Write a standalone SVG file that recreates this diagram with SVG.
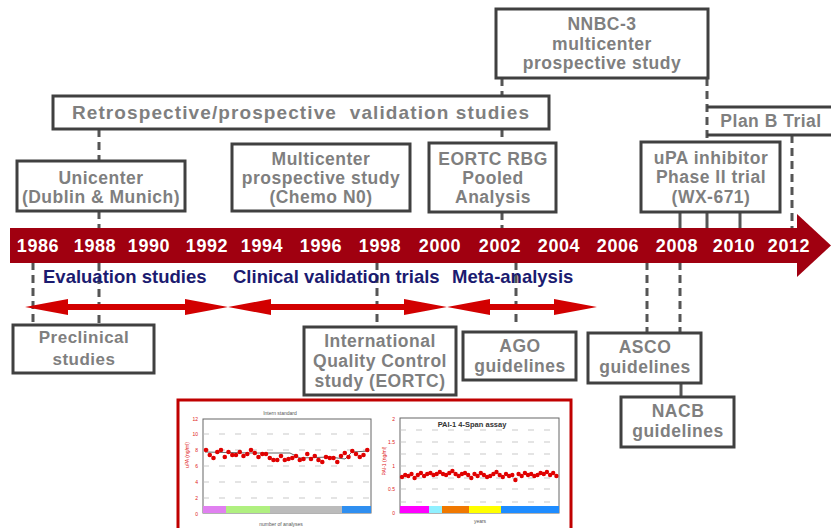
<svg xmlns="http://www.w3.org/2000/svg" width="831" height="528" viewBox="0 0 831 528">
<defs>
<style>
.box{fill:#fff;stroke:#404040;stroke-width:3}
.bt{font-family:"Liberation Sans",Arial,sans-serif;font-weight:bold;font-size:17.5px;fill:#7f7f7f;text-anchor:middle;letter-spacing:0.5px}
.dash{stroke:#555;stroke-width:3;stroke-dasharray:8 5;fill:none}
.solid{stroke:#555;stroke-width:3;fill:none}
.yr{font-family:"Liberation Sans",Arial,sans-serif;font-weight:bold;font-size:18px;fill:#fff;text-anchor:middle;letter-spacing:0.6px}
.lbl{font-family:"Liberation Sans",Arial,sans-serif;font-weight:bold;font-size:18.5px;fill:#1b1b70}
.dbl{fill:#d20000}
.tiny{font-family:"Liberation Sans",Arial,sans-serif;font-size:5px;fill:#555;text-anchor:middle}
.tick{font-family:"Liberation Sans",Arial,sans-serif;font-size:5px;fill:#e02020;text-anchor:end}
.grid{stroke:#bbb;stroke-width:0.8;stroke-dasharray:6 10}
.frame{fill:#fff;stroke:#666;stroke-width:1}
</style>
</defs>
<rect width="831" height="528" fill="#fff"/>

<g id="connectors">
<line class="dash" x1="99" y1="129" x2="99" y2="161"/>
<line class="dash" x1="99" y1="211" x2="99" y2="325"/>
<line class="dash" x1="33" y1="262" x2="33" y2="325"/>
<line class="dash" x1="502" y1="78" x2="502" y2="96"/>
<line class="dash" x1="502" y1="129" x2="502" y2="143"/>
<line class="dash" x1="502" y1="212" x2="502" y2="230"/>
<line class="dash" x1="707" y1="78" x2="707" y2="142"/>
<line class="solid" x1="707" y1="212" x2="707" y2="230"/>
<line class="solid" x1="680" y1="212" x2="680" y2="230"/>
<line class="solid" x1="740" y1="212" x2="740" y2="230"/>
<line class="dash" x1="792" y1="135" x2="792" y2="230"/>
<line class="dash" x1="377" y1="262" x2="377" y2="327"/>
<line class="dash" x1="516" y1="262" x2="516" y2="322"/>
<line class="dash" x1="647" y1="262" x2="647" y2="333"/>
<line class="dash" x1="680" y1="262" x2="680" y2="333"/>
<line class="solid" x1="681" y1="383" x2="681" y2="397"/>
</g>

<g id="timeline">
<rect x="10" y="228" width="788" height="35" fill="#a00010"/>
<polygon points="797,214 831,245.5 797,277" fill="#a00010"/>
<text class="yr" x="38" y="252">1986</text>
<text class="yr" x="95" y="252">1988</text>
<text class="yr" x="149" y="252">1990</text>
<text class="yr" x="207" y="252">1992</text>
<text class="yr" x="262" y="252">1994</text>
<text class="yr" x="321" y="252">1996</text>
<text class="yr" x="380" y="252">1998</text>
<text class="yr" x="440" y="252">2000</text>
<text class="yr" x="500" y="252">2002</text>
<text class="yr" x="559" y="252">2004</text>
<text class="yr" x="618" y="252">2006</text>
<text class="yr" x="677" y="252">2008</text>
<text class="yr" x="734" y="252">2010</text>
<text class="yr" x="789" y="252">2012</text>
</g>

<g id="phases">
<text class="lbl" x="43" y="283">Evaluation studies</text>
<text class="lbl" x="233" y="283">Clinical validation trials</text>
<text class="lbl" x="452" y="283">Meta-analysis</text>
<polygon class="dbl" points="25,307 68,299 68,304 185,304 185,299 228,307 185,315 185,310 68,310 68,315"/>
<polygon class="dbl" points="228,307 271,299 271,304 404,304 404,299 447,307 404,315 404,310 271,310 271,315"/>
<polygon class="dbl" points="447,307 490,299 490,304 554,304 554,299 597,307 554,315 554,310 490,310 490,315"/>
</g>

<g id="retro">
<rect class="box" x="53" y="96" width="496" height="33"/>
<text class="bt" x="301" y="119" style="font-size:19px;letter-spacing:1.1px">Retrospective/prospective&#160; validation studies</text>
</g>
<g id="nnbc">
<rect class="box" x="496" y="9" width="212" height="69"/>
<text class="bt" x="602" y="30">NNBC-3</text>
<text class="bt" x="602" y="50">multicenter</text>
<text class="bt" x="602" y="69">prospective study</text>
</g>
<g id="unicenter">
<rect class="box" x="17" y="161" width="168" height="50"/>
<text class="bt" x="101" y="184">Unicenter</text>
<text class="bt" x="101" y="203">(Dublin &amp; Munich)</text>
</g>
<g id="multicenter">
<rect class="box" x="232" y="144" width="178" height="67"/>
<text class="bt" x="321" y="165">Multicenter</text>
<text class="bt" x="321" y="184">prospective study</text>
<text class="bt" x="321" y="203">(Chemo N0)</text>
</g>
<g id="eortc">
<rect class="box" x="429" y="143" width="127" height="69"/>
<text class="bt" x="493" y="165">EORTC RBG</text>
<text class="bt" x="493" y="184">Pooled</text>
<text class="bt" x="493" y="203">Analysis</text>
</g>
<g id="planb">
<path d="M707,107 H833 M707,135 H833" stroke="#404040" stroke-width="3" fill="none"/>
<text class="bt" x="771" y="127">Plan B Trial</text>
</g>
<g id="upa">
<rect class="box" x="641" y="142" width="139" height="70"/>
<text class="bt" x="711" y="164">uPA inhibitor</text>
<text class="bt" x="711" y="183">Phase II trial</text>
<text class="bt" x="711" y="203">(WX-671)</text>
</g>
<g id="preclinical">
<rect class="box" x="13" y="325" width="141" height="48"/>
<text class="bt" x="84" y="343" style="font-size:17px">Preclinical</text>
<text class="bt" x="84" y="365" style="font-size:17px">studies</text>
</g>
<g id="iqc">
<rect class="box" x="304" y="327" width="152" height="68"/>
<text class="bt" x="380" y="347">International</text>
<text class="bt" x="380" y="367">Quality Control</text>
<text class="bt" x="380" y="387">study (EORTC)</text>
</g>
<g id="ago">
<rect class="box" x="463" y="332" width="113" height="48"/>
<text class="bt" x="520" y="352">AGO</text>
<text class="bt" x="520" y="372">guidelines</text>
</g>
<g id="asco">
<rect class="box" x="588" y="333" width="113" height="50"/>
<text class="bt" x="645" y="353">ASCO</text>
<text class="bt" x="645" y="373">guidelines</text>
</g>
<g id="nacb">
<rect class="box" x="621" y="397" width="113" height="50"/>
<text class="bt" x="678" y="417">NACB</text>
<text class="bt" x="678" y="437">guidelines</text>
</g>

<g id="charts">
<rect x="178" y="400" width="393" height="140" fill="#fff" stroke="#c00000" stroke-width="3"/>
<rect class="frame" x="203" y="419" width="168" height="94"/>
<line class="grid" x1="203" y1="434" x2="371" y2="434"/>
<line class="grid" x1="203" y1="450" x2="371" y2="450"/>
<line class="grid" x1="203" y1="466" x2="371" y2="466"/>
<line class="grid" x1="203" y1="482" x2="371" y2="482"/>
<line class="grid" x1="203" y1="498" x2="371" y2="498"/>
<rect x="203" y="506" width="23" height="7" fill="#e080f0"/>
<rect x="226" y="506" width="44" height="7" fill="#b0f080"/>
<rect x="270" y="506" width="72" height="7" fill="#bbbbbb"/>
<rect x="342" y="506" width="29" height="7" fill="#2f8ff0"/>
<text class="tick" x="198" y="421">12</text>
<text class="tick" x="198" y="436">10</text>
<text class="tick" x="198" y="452">8</text>
<text class="tick" x="198" y="468">6</text>
<text class="tick" x="198" y="484">4</text>
<text class="tick" x="198" y="500">2</text>
<text class="tick" x="198" y="516">0</text>
<text class="tiny" x="280" y="415">Intern standard</text>
<text class="tiny" x="281" y="526">number of analyses</text>
<text class="tick" x="0" y="0" transform="translate(189,455) rotate(-90)" style="text-anchor:middle">uPA (ng/ml)</text>
<polyline points="205,452 250,453 290,453 300,458 330,457 345,459 352,452 369,451" fill="none" stroke="#555" stroke-width="0.9"/>
<g fill="#e00000">
<circle cx="206" cy="450" r="2.3"/><circle cx="209.8" cy="455" r="2.3"/><circle cx="213.5" cy="458" r="2.3"/><circle cx="217.3" cy="452" r="2.3"/><circle cx="221" cy="450" r="2.3"/><circle cx="224.8" cy="457" r="2.3"/><circle cx="228.5" cy="452" r="2.3"/><circle cx="232.3" cy="455" r="2.3"/><circle cx="236" cy="455" r="2.3"/><circle cx="239.8" cy="452" r="2.3"/><circle cx="243.5" cy="456" r="2.3"/><circle cx="247.3" cy="454" r="2.3"/><circle cx="251" cy="450" r="2.3"/><circle cx="254.8" cy="453" r="2.3"/><circle cx="258.5" cy="457" r="2.3"/><circle cx="262.3" cy="454" r="2.3"/><circle cx="266" cy="454" r="2.3"/><circle cx="269.8" cy="458" r="2.3"/><circle cx="273.5" cy="460" r="2.3"/><circle cx="277.3" cy="460" r="2.3"/><circle cx="281" cy="456" r="2.3"/><circle cx="284.8" cy="460" r="2.3"/><circle cx="288.5" cy="459" r="2.3"/><circle cx="292.3" cy="458" r="2.3"/><circle cx="296" cy="456" r="2.3"/><circle cx="299.8" cy="460" r="2.3"/><circle cx="303.5" cy="459" r="2.3"/><circle cx="307.3" cy="454" r="2.3"/><circle cx="311" cy="459" r="2.3"/><circle cx="314.8" cy="456" r="2.3"/><circle cx="318.5" cy="460" r="2.3"/><circle cx="322.3" cy="462" r="2.3"/><circle cx="326" cy="457" r="2.3"/><circle cx="329.8" cy="458" r="2.3"/><circle cx="333.5" cy="458" r="2.3"/><circle cx="337.3" cy="462" r="2.3"/><circle cx="341" cy="456" r="2.3"/><circle cx="344.8" cy="453" r="2.3"/><circle cx="348.5" cy="457" r="2.3"/><circle cx="352.3" cy="451" r="2.3"/><circle cx="356" cy="454" r="2.3"/><circle cx="359.8" cy="457" r="2.3"/><circle cx="363.5" cy="455" r="2.3"/><circle cx="367.3" cy="450" r="2.3"/>
</g>
<rect class="frame" x="400" y="418" width="159" height="95"/>
<line class="grid" x1="400" y1="430" x2="559" y2="430"/>
<line class="grid" x1="400" y1="442" x2="559" y2="442"/>
<line class="grid" x1="400" y1="454" x2="559" y2="454"/>
<line class="grid" x1="400" y1="466" x2="559" y2="466"/>
<line class="grid" x1="400" y1="478" x2="559" y2="478"/>
<line class="grid" x1="400" y1="489" x2="559" y2="489"/>
<line class="grid" x1="400" y1="502" x2="559" y2="502"/>
<rect x="400" y="506" width="29" height="7" fill="#ff00ff"/>
<rect x="429" y="506" width="13" height="7" fill="#90f0ff"/>
<rect x="442" y="506" width="27" height="7" fill="#f07800"/>
<rect x="469" y="506" width="32" height="7" fill="#ffff00"/>
<rect x="501" y="506" width="58" height="7" fill="#1e8cff"/>
<text class="tick" x="395" y="421">2</text>
<text class="tick" x="395" y="444">1.5</text>
<text class="tick" x="395" y="468">1</text>
<text class="tick" x="395" y="491">0.5</text>
<text class="tick" x="395" y="515">0</text>
<text x="472" y="427" style="font-family:'Liberation Sans',Arial,sans-serif;font-weight:bold;font-size:7.5px;fill:#333;text-anchor:middle">PAI-1 4-Span assay</text>
<text class="tiny" x="480" y="523">years</text>
<text class="tick" x="0" y="0" transform="translate(386,461) rotate(-90)" style="text-anchor:middle">PAI-1 (ng/ml)</text>
<g fill="#e00000">
<circle cx="402" cy="477" r="2.2"/><circle cx="405.2" cy="475" r="2.2"/><circle cx="408.3" cy="476" r="2.2"/><circle cx="411.5" cy="474" r="2.2"/><circle cx="414.6" cy="478" r="2.2"/><circle cx="417.8" cy="475" r="2.2"/><circle cx="420.9" cy="473" r="2.2"/><circle cx="424.1" cy="476" r="2.2"/><circle cx="427.2" cy="474" r="2.2"/><circle cx="430.4" cy="473" r="2.2"/><circle cx="433.5" cy="475" r="2.2"/><circle cx="436.7" cy="474" r="2.2"/><circle cx="439.8" cy="472" r="2.2"/><circle cx="443" cy="474" r="2.2"/><circle cx="446.1" cy="475" r="2.2"/><circle cx="449.3" cy="473" r="2.2"/><circle cx="452.4" cy="471" r="2.2"/><circle cx="455.6" cy="474" r="2.2"/><circle cx="458.7" cy="476" r="2.2"/><circle cx="461.9" cy="474" r="2.2"/><circle cx="465" cy="473" r="2.2"/><circle cx="468.2" cy="475" r="2.2"/><circle cx="471.3" cy="478" r="2.2"/><circle cx="474.5" cy="474" r="2.2"/><circle cx="477.6" cy="476" r="2.2"/><circle cx="480.8" cy="473" r="2.2"/><circle cx="483.9" cy="475" r="2.2"/><circle cx="487.1" cy="477" r="2.2"/><circle cx="490.2" cy="476" r="2.2"/><circle cx="493.4" cy="474" r="2.2"/><circle cx="496.5" cy="472" r="2.2"/><circle cx="499.7" cy="475" r="2.2"/><circle cx="502.8" cy="477" r="2.2"/><circle cx="506" cy="474" r="2.2"/><circle cx="509.1" cy="476" r="2.2"/><circle cx="512.3" cy="475" r="2.2"/><circle cx="515.4" cy="480" r="2.2"/><circle cx="518.6" cy="474" r="2.2"/><circle cx="521.7" cy="476" r="2.2"/><circle cx="524.9" cy="473" r="2.2"/><circle cx="528" cy="475" r="2.2"/><circle cx="531.2" cy="474" r="2.2"/><circle cx="534.3" cy="476" r="2.2"/><circle cx="537.5" cy="475" r="2.2"/><circle cx="540.6" cy="473" r="2.2"/><circle cx="543.8" cy="474" r="2.2"/><circle cx="546.9" cy="472" r="2.2"/><circle cx="550.1" cy="475" r="2.2"/><circle cx="553.2" cy="473" r="2.2"/><circle cx="556.4" cy="476" r="2.2"/>
</g>
</g>
</svg>
